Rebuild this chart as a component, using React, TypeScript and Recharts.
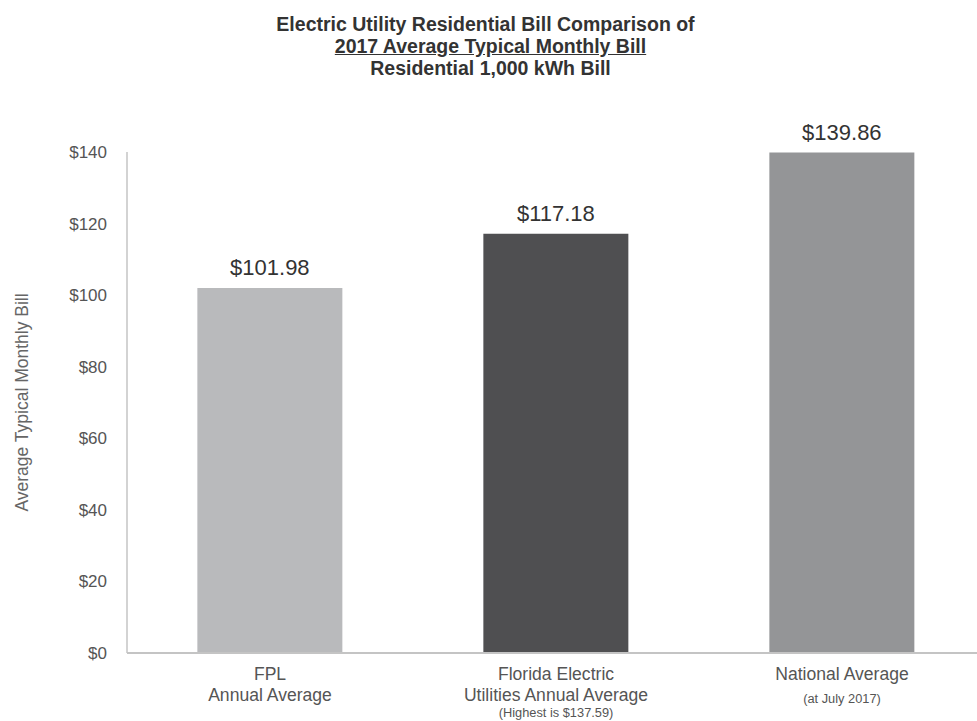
import React from "react";
import { BarChart, Bar, XAxis, YAxis, Cell, LabelList } from "recharts";

const categories = ["FPL", "Florida", "National"];
const values = [101.98, 117.18, 139.86];
const barColors = ["#b9babc", "#4f4f51", "#949597"];
const labelLines: string[][] = [
  ["FPL", "Annual Average"],
  ["Florida Electric", "Utilities Annual Average"],
  ["National Average"],
];
const noteLines = ["", "(Highest is $137.59)", "(at July 2017)"];
const yTicks = [0, 20, 40, 60, 80, 100, 120, 140];

const data = categories.map((c, i) => ({ name: c, value: values[i], idx: i }));

const SANS = '"Liberation Sans", Arial, sans-serif';

const XTick = (props: any) => {
  const { x, y, payload } = props;
  const i = categories.indexOf(payload.value);
  const lines = labelLines[i] || [];
  const note = noteLines[i];
  return (
    <g transform={`translate(${x},${y}) scale(0.95,1)`}>
      {lines.map((l, k) => (
        <text key={k} x={0} y={19 + k * 21} textAnchor="middle" fill="#555" fontSize={18.5} fontFamily={SANS}>
          {l}
        </text>
      ))}
      {note ? (
        <text x={0} y={lines.length === 1 ? 42 : 56} textAnchor="middle" fill="#555" fontSize={13.5} fontFamily={SANS}>
          {note}
        </text>
      ) : null}
    </g>
  );
};

export default function App() {
  return (
    <div style={{ position: "fixed", left: 0, top: 0, width: 977, height: 721, overflow: "hidden", background: "#fff" }}>
      <div style={{ position: "absolute", left: 0, top: 13, width: 977, paddingLeft: 4, boxSizing: "border-box", textAlign: "center", fontFamily: SANS, fontWeight: "bold", fontSize: 19.5, lineHeight: "22px", color: "#333" }}>
        <div style={{ paddingRight: 10 }}>Electric Utility Residential Bill Comparison of</div>
        <div style={{ textDecoration: "underline" }}>2017 Average Typical Monthly Bill</div>
        <div>Residential 1,000 kWh Bill</div>
      </div>
      <div style={{ position: "absolute", left: 0, top: 0 }}>
        <BarChart width={1000} height={721} data={data} margin={{ top: 152, right: 15, bottom: 0, left: 0 }} barCategoryGap="24.6%">
          <XAxis
            dataKey="name"
            tick={<XTick />}
            tickLine={false}
            axisLine={{ stroke: "#c4c4c4", strokeWidth: 2 }}
            interval={0}
            height={68}
          />
          <YAxis
            domain={[0, 140]}
            ticks={yTicks}
            width={127}
            tickLine={false}
            axisLine={{ stroke: "#c4c4c4", strokeWidth: 1.5 }}
            tickMargin={14}
            tickFormatter={(v: number) => `$${v}`}
            tick={{ fill: "#555", fontSize: 17, fontFamily: SANS }}
            label={{ value: "Average Typical Monthly Bill", angle: -90, position: "insideLeft", offset: 22, style: { fill: "#666", fontSize: 17.5, fontFamily: SANS, textAnchor: "middle" } }}
          />
          <Bar dataKey="value" isAnimationActive={false}>
            {data.map((d, i) => (
              <Cell key={i} fill={barColors[i]} />
            ))}
            <LabelList
              dataKey="value"
              position="top"
              offset={13}
              formatter={(v: number) => `$${v.toFixed(2)}`}
              style={{ fill: "#333", fontSize: 22, fontFamily: SANS }}
            />
          </Bar>
        </BarChart>
      </div>
    </div>
  );
}
